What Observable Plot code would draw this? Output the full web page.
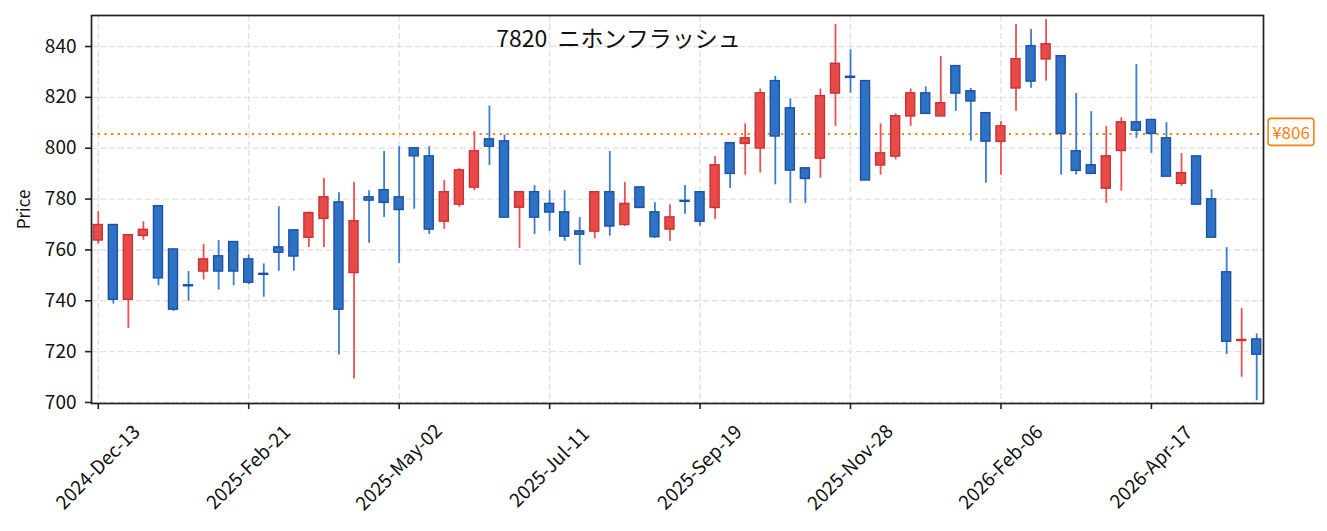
<!DOCTYPE html>
<html>
<head>
<meta charset="utf-8">
<script src="https://cdn.jsdelivr.net/npm/d3@7"></script>
<script src="https://cdn.jsdelivr.net/npm/@observablehq/plot@0.6"></script>
<style>
  html, body { margin: 0; padding: 0; background: #fff; }
  #chart svg { display: block; }
</style>
</head>
<body>
<div id="chart"></div>
<script>
const title = "7820  ニホンフラッシュ";
const openP  = [763.7,769.8,740.4,765.5,777.2,760.2,746.1,751.5,757.5,763.1,756.3,750.6,761.0,767.7,764.8,772.2,778.7,750.9,780.7,783.5,780.7,800.0,796.8,771.1,777.8,784.5,803.5,802.7,776.6,782.7,778.1,774.8,767.3,767.2,782.7,769.8,784.6,774.8,768.0,779.3,782.7,776.5,802.0,801.7,799.9,826.4,815.7,792.1,795.9,821.5,828.1,826.4,793.2,796.7,812.5,821.6,812.5,832.3,822.4,813.8,802.5,823.5,840.1,834.9,836.2,798.8,793.3,784.1,798.9,810.2,811.1,803.9,786.0,796.8,779.9,751.2,724.2,724.8];
const highP  = [775.1,769.8,765.8,771.1,777.2,760.2,751.5,762.1,763.7,763.1,758.0,754.5,777.0,767.7,774.9,788.1,782.5,786.5,783.3,798.7,800.6,800.0,800.6,787.3,792.0,806.5,816.6,805.2,782.7,785.3,783.3,783.3,772.7,782.7,798.7,786.5,784.6,778.6,777.8,785.3,782.7,796.7,802.0,809.6,823.3,828.2,819.4,792.1,823.3,848.7,838.7,826.4,809.6,813.5,823.3,824.1,836.1,832.3,823.5,813.8,810.5,848.7,846.7,850.6,836.2,821.5,814.4,808.5,812.0,832.9,811.1,810.1,797.9,796.8,783.7,760.9,736.9,727.0];
const lowP   = [762.3,738.7,729.1,763.8,745.9,735.8,739.8,748.2,744.2,745.9,746.3,741.4,751.6,751.6,761.0,761.0,718.7,709.2,762.6,772.8,754.7,776.0,766.1,768.1,776.8,783.3,793.2,772.7,760.6,766.1,767.3,763.4,753.9,764.4,765.4,769.3,776.5,764.6,763.4,774.0,769.3,772.0,784.2,789.4,790.2,785.6,778.3,778.3,788.2,808.6,821.6,787.3,789.4,795.4,808.6,813.5,812.5,814.5,802.7,786.2,789.4,814.5,823.6,826.4,789.4,789.4,789.9,778.3,783.1,803.9,798.0,788.8,785.0,777.8,764.8,718.9,709.9,700.7];
const closeP = [769.8,740.4,765.8,767.9,748.8,736.5,745.7,756.3,751.5,751.5,747.1,750.2,758.9,757.4,774.5,780.7,736.5,771.3,779.4,778.5,775.7,796.8,768.0,782.7,791.3,798.8,800.6,772.7,782.7,772.7,774.7,765.2,766.0,782.7,769.2,778.1,776.5,765.0,772.8,778.9,771.1,793.3,789.9,803.9,821.6,804.6,791.2,787.9,820.5,833.2,827.7,787.3,798.0,812.6,821.6,813.5,817.7,821.5,818.4,802.6,808.6,835.0,826.2,840.9,805.6,791.1,789.9,796.8,810.2,806.9,805.6,788.8,790.2,777.8,764.8,723.9,724.6,718.8];
const tickIndex  = [0, 10, 20, 30, 40, 50, 60, 70];
const tickLabels = ["2024-Dec-13","2025-Feb-21","2025-May-02","2025-Jul-11","2025-Sep-19","2025-Nov-28","2026-Feb-06","2026-Apr-17"];
const yTicks = [700, 720, 740, 760, 780, 800, 820, 840];
const refPrice = 805.6;
const refLabel = "¥806";

const UP_FILL = "#e84a4a", UP_STROKE = "#c83434", UP_WICK = "#ea5252";
const DN_FILL = "#2e72c6", DN_STROKE = "#1d52a3", DN_WICK = "#3a7dd0";
const FONT = "'Noto Sans CJK JP', 'Noto Sans', sans-serif";

const data = openP.map((o, i) => ({i, o, h: highP[i], l: lowP[i], c: closeP[i], up: closeP[i] >= o}));
const ticks = tickIndex.map((t, k) => ({t, label: tickLabels[k]}));

const chart = Plot.plot({
  width: 1327,
  height: 531,
  marginLeft: 91,
  marginRight: 64,
  marginTop: 15,
  marginBottom: 128,
  style: {fontFamily: FONT, background: "#fff", color: "#111"},
  x: {type: "linear", domain: [-0.45, 77.45]},
  y: {domain: [699.6, 852.2]},
  color: {type: "identity"},
  marks: [
    Plot.gridY(yTicks, {stroke: "#e2e2e2", strokeOpacity: 1, strokeWidth: 1.4, strokeDasharray: "6,3"}),
    Plot.gridX(tickIndex, {stroke: "#e2e2e2", strokeOpacity: 1, strokeWidth: 1.4, strokeDasharray: "6,3"}),
    Plot.ruleY([refPrice], {stroke: "#ff7f0e", strokeWidth: 2.2, strokeDasharray: "2.2,4.5"}),
    Plot.ruleX(data, {x: "i", y1: "l", y2: "h", stroke: d => d.up ? UP_WICK : DN_WICK, strokeWidth: 1.8}),
    Plot.rect(data, {
      x1: d => d.i - 0.3, x2: d => d.i + 0.3,
      y1: "o", y2: "c",
      fill: d => d.up ? UP_FILL : DN_FILL,
      stroke: d => d.up ? UP_STROKE : DN_STROKE,
      strokeWidth: 1.4
    }),
    Plot.frame({stroke: "#222", strokeWidth: 1.7}),
    Plot.axisY({ticks: yTicks, tickSize: 6, tickPadding: 9, label: null, fontSize: 19, stroke: "#222", strokeWidth: 1.6, fill: "#111"}),
    Plot.axisX({ticks: tickIndex, tickSize: 6, tickFormat: () => "", label: null, stroke: "#222", strokeWidth: 1.6}),
    Plot.text(ticks, {x: "t", text: "label", frameAnchor: "bottom", dy: 64, rotate: -45, textAnchor: "middle", lineAnchor: "middle", fontSize: 19, fill: "#111"}),
    Plot.text([title], {frameAnchor: "top", dx: -59, dy: 24, lineAnchor: "middle", fontSize: 23, fill: "#111"}),
    Plot.text(["Price"], {frameAnchor: "left", dx: -67, rotate: -90, lineAnchor: "middle", textAnchor: "middle", fontSize: 17, fill: "#111"}),
    Plot.text([refLabel], {y: () => refPrice, frameAnchor: "right", dx: 27.5, textAnchor: "middle", lineAnchor: "middle", fontSize: 17, fill: "#ff7f0e", className: "ref-label"})
  ]
});
document.getElementById("chart").appendChild(chart);

// rounded box behind the reference label
d3.select(chart).selectAll(".ref-label text").each(function() {
  const b = this.getBBox();
  const t = this.getAttribute("transform");
  d3.select(this.parentNode).insert("rect", "text")
    .attr("transform", t)
    .attr("x", b.x - 4).attr("y", b.y - 1)
    .attr("width", b.width + 8).attr("height", b.height + 2)
    .attr("rx", 3).attr("fill", "#fff").attr("stroke", "#ff7f0e").attr("stroke-width", 1.6);
});
</script>
</body>
</html>
